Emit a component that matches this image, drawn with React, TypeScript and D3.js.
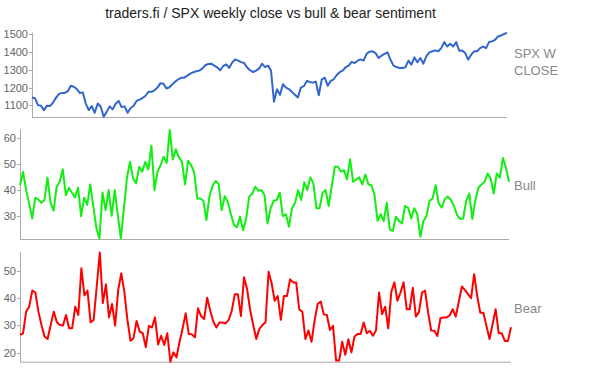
import React from "react";
import * as d3 from "d3";

const title = "traders.fi / SPX weekly close vs bull & bear sentiment";

// weekly values
const spxClose = [
  1144, 1140, 1101, 1098, 1073, 1098, 1096, 1114, 1142, 1163,
  1170, 1170, 1180, 1210, 1205, 1192, 1170, 1173, 1110, 1073,
  1096, 1058, 1110, 1092, 1036, 1063, 1094, 1077, 1109, 1125,
  1090, 1094, 1058, 1085, 1096, 1125, 1132, 1141, 1154, 1176,
  1176, 1185, 1200, 1225, 1222, 1195, 1202, 1219, 1234, 1247,
  1256, 1256, 1268, 1279, 1287, 1292, 1296, 1307, 1326, 1333,
  1335, 1324, 1314, 1298, 1322, 1331, 1311, 1341, 1359, 1352,
  1344, 1339, 1314, 1298, 1288, 1296, 1307, 1335, 1316, 1324,
  1296, 1120, 1191, 1159, 1219, 1200, 1191, 1176, 1159, 1144,
  1200, 1208, 1238, 1232, 1228, 1234, 1157, 1247, 1256, 1210,
  1238, 1247, 1271, 1287, 1296, 1315, 1324, 1345, 1339, 1352,
  1359, 1352, 1391, 1403, 1405, 1395, 1367, 1380, 1390, 1399,
  1358, 1324, 1316, 1311, 1311, 1315, 1352, 1330, 1371, 1343,
  1367, 1335, 1376, 1399, 1405, 1410, 1405, 1423, 1457, 1432,
  1447, 1432, 1457, 1408, 1410, 1395, 1358, 1386, 1405, 1405,
  1423, 1432, 1423, 1457, 1461, 1470, 1489, 1494, 1503, 1509,
];

const bullPct = [
  42.0, 47.2, 40.1, 35.0, 29.2, 37.2, 36.5, 35.2, 36.3, 45.0,
  35.2, 32.2, 41.4, 43.3, 48.1, 38.2, 41.0, 39.1, 37.3, 41.0,
  30.1, 37.2, 34.4, 42.3, 33.7, 25.4, 21.5, 39.2, 32.4, 40.1,
  30.2, 40.1, 30.5, 21.5, 33.1, 44.9, 51.0, 44.6, 42.7, 49.1,
  47.2, 51.0, 48.1, 57.2, 40.1, 47.2, 49.7, 52.9, 50.6, 63.2,
  51.9, 55.8, 52.7, 51.0, 42.3, 51.4, 49.7, 46.8, 36.9, 36.9,
  36.0, 28.6, 37.8, 41.7, 43.6, 42.4, 32.4, 37.8, 35.6, 30.9,
  26.7, 25.8, 29.9, 24.7, 29.2, 37.6, 38.8, 41.4, 39.9, 40.1,
  38.2, 27.3, 33.1, 36.0, 36.3, 39.1, 30.1, 30.8, 26.0, 33.1,
  35.2, 40.1, 36.3, 43.1, 40.1, 45.0, 42.7, 33.1, 33.1, 39.1,
  40.1, 34.0, 41.4, 49.1, 49.1, 47.2, 47.8, 44.2, 52.0, 43.3,
  44.2, 45.0, 42.3, 46.1, 42.3, 42.0, 38.2, 28.3, 30.9, 28.2,
  35.2, 25.0, 24.4, 29.9, 28.2, 27.3, 34.0, 33.3, 29.2, 33.1,
  30.8, 22.2, 28.2, 30.1, 35.9, 36.9, 42.0, 35.0, 33.4, 36.7,
  37.6, 36.3, 34.0, 30.5, 29.0, 29.2, 35.9, 38.8, 29.0, 36.3,
  41.0, 42.3, 43.3, 46.5, 44.6, 38.8, 46.5, 44.9, 52.5, 48.7,
  43.3,
];

const bearPct = [
  26.5, 27.1, 35.0, 36.8, 42.7, 42.0, 35.0, 30.1, 25.9, 25.0,
  30.1, 35.0, 31.1, 30.1, 29.9, 33.8, 28.9, 28.9, 36.8, 33.8,
  50.9, 40.9, 42.7, 31.1, 32.0, 44.2, 56.6, 38.1, 45.0, 32.9,
  37.8, 29.9, 42.9, 49.0, 42.3, 32.0, 24.4, 25.3, 31.6, 27.7,
  27.1, 22.0, 29.8, 29.2, 32.9, 23.0, 26.2, 22.8, 27.1, 16.7,
  20.1, 18.3, 24.0, 28.9, 34.4, 26.8, 26.7, 25.6, 36.2, 33.4,
  32.3, 40.1, 35.3, 31.3, 29.2, 31.0, 31.0, 30.7, 32.0, 35.3,
  41.4, 41.4, 33.4, 47.6, 43.2, 35.6, 30.1, 25.0, 28.7, 30.1,
  31.1, 49.6, 45.4, 39.0, 40.7, 32.0, 40.7, 40.7, 46.8, 45.7,
  45.7, 35.8, 35.0, 25.0, 28.1, 24.0, 31.7, 37.8, 38.7, 34.0,
  33.8, 28.3, 29.8, 17.1, 17.1, 24.0, 19.2, 24.9, 20.1, 25.9,
  26.8, 26.8, 31.0, 27.1, 28.0, 26.2, 28.1, 42.0, 34.1, 36.8,
  28.9, 42.3, 45.7, 39.0, 42.0, 45.7, 35.9, 35.9, 43.7, 33.2,
  34.8, 42.0, 42.7, 34.6, 28.1, 28.0, 26.1, 32.6, 32.9, 32.9,
  33.6, 35.9, 33.2, 38.7, 44.2, 42.9, 41.4, 39.9, 48.7, 40.6,
  34.6, 34.6, 29.8, 25.0, 30.4, 35.9, 27.1, 27.1, 24.3, 24.3,
  29.3,
];

const spxTicks = [1100, 1200, 1300, 1400, 1500];
const bullTicks = [30, 40, 50, 60];
const bearTicks = [20, 30, 40, 50];

const font = "'Liberation Sans', Arial, Helvetica, sans-serif";

type PanelProps = {
  data: number[];
  ticks: number[];
  domain: [number, number];
  left: number;
  right: number;
  top: number;
  bottom: number;
  color: string;
  label: string[];
  labelY: number;
};

function Panel({ data, ticks, domain, left, right, top, bottom, color, label, labelY }: PanelProps) {
  const x = d3.scaleLinear().domain([0, data.length - 1]).range([left, right]);
  const y = d3.scaleLinear().domain(domain).range([bottom, top]);
  const line = d3
    .line<number>()
    .x((_, i) => x(i))
    .y((d) => y(d));

  return (
    <g>
      <line x1={left + 0.5} x2={left + 0.5} y1={top} y2={bottom} stroke="#aaa" />
      <line x1={left} x2={right} y1={bottom + 0.5} y2={bottom + 0.5} stroke="#aaa" />
      {ticks.map((t) => (
        <g key={t}>
          <line x1={left - 3} x2={left} y1={Math.round(y(t)) + 0.5} y2={Math.round(y(t)) + 0.5} stroke="#aaa" />
          <text
            x={left - 4}
            y={y(t)}
            dy="0.36em"
            textAnchor="end"
            fontSize={11}
            fill="#666"
          >
            {t}
          </text>
        </g>
      ))}
      <path d={line(data) ?? ""} fill="none" stroke={color} strokeWidth={2} strokeLinejoin="round" />
      {label.map((l, i) => (
        <text key={l} x={514} y={labelY + i * 16.7} fontSize={13} fill="#888">
          {l}
        </text>
      ))}
    </g>
  );
}

export default function App() {
  return (
    <svg
      width={600}
      height={371}
      style={{ position: "absolute", left: 0, top: 0, background: "#fff" }}
      fontFamily={font}
    >
      <text x={270.5} y={18} textAnchor="middle" fontSize={14} fill="#222">
        {title}
      </text>
      <Panel
        data={spxClose}
        ticks={spxTicks}
        domain={[1034, 1510]}
        left={32}
        right={507}
        top={32.7}
        bottom={117}
        color="#3366cc"
        label={["SPX W", "CLOSE"]}
        labelY={58.3}
      />
      <Panel
        data={bullPct}
        ticks={bullTicks}
        domain={[21.3, 63.5]}
        left={20}
        right={509}
        top={129.3}
        bottom={239}
        color="#11ee11"
        label={["Bull"]}
        labelY={190}
      />
      <Panel
        data={bearPct}
        ticks={bearTicks}
        domain={[16.7, 56.7]}
        left={20}
        right={511}
        top={252.3}
        bottom={361.7}
        color="#ff0000"
        label={["Bear"]}
        labelY={312.7}
      />
    </svg>
  );
}
